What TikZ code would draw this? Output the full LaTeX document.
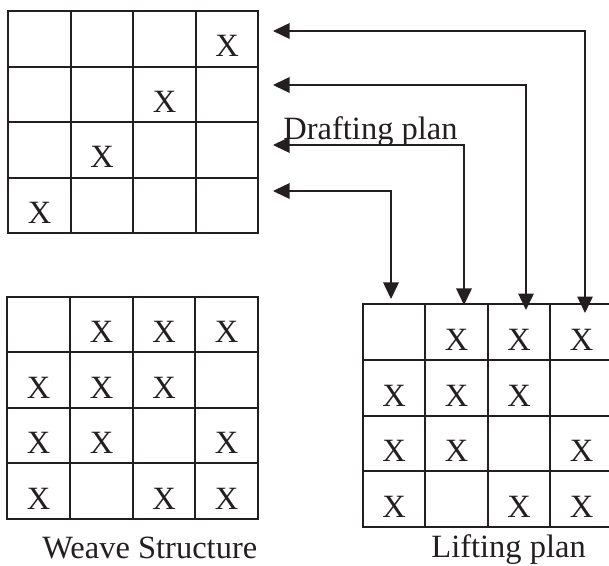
\documentclass[tikz,border=0pt]{standalone}
\usepackage{fontspec}
\setmainfont{Liberation Serif}
\usetikzlibrary{arrows.meta}
\definecolor{ink}{HTML}{231F20}
\begin{document}
\begin{tikzpicture}[x=0.5pt,y=-0.5pt,
  cell/.style={inner sep=0pt, outer sep=0pt},
  gridline/.style={draw=ink, line width=0.9pt, line cap=rect},
  xmark/.style={inner sep=0pt, text height=18pt, text depth=0pt,
    font=\fontsize{16.25}{18}\selectfont, text=ink},
  caption/.style={inner sep=0pt, anchor=base west,
    font=\fontsize{16.25}{18}\selectfont, text=ink},
  link/.style={draw=ink, line width=0.75pt,
    {Triangle[length=8.25pt,width=7.75pt]}-{Triangle[length=8.25pt,width=7.75pt]}}]
\useasboundingbox (0,0) rectangle (609,566);
\clip (0,0) rectangle (609,566);

% cells of a 4x4 plan: #1 prefix, then row and column bounds
\newcommand\plancells[3]{%
  \foreach \r/\ya/\yb in {#2}{%
    \foreach \c/\xa/\xb in {#3}{%
      \pgfmathsetmacro\cw{(\xb-\xa)*0.5}%
      \pgfmathsetmacro\ch{(\yb-\ya)*0.5}%
      \node[cell, minimum width=\cw pt, minimum height=\ch pt]
        (#1-\r-\c) at ({(\xa+\xb)/2},{(\ya+\yb)/2}) {};}}}

% drafting plan grid
\plancells{d}{1/11/67,2/67/122,3/122/178,4/178/233}{1/8/71,2/71/133,3/133/196,4/196/258}
\draw[gridline] (d-1-1.north west) rectangle (d-4-4.south east);
\foreach \i in {2,3,4}{
  \draw[gridline] (d-1-\i.north west) -- (d-4-\i.south west);
  \draw[gridline] (d-\i-1.north west) -- (d-\i-4.north east);}
\foreach \r/\c in {1/4,2/3,3/2,4/1}
  \node[xmark] (dx-\r-\c) at (d-\r-\c) {X};

% weave structure grid
\plancells{w}{1/297/352,2/352/408,3/408/463,4/463/519}{1/7/70,2/70/133,3/133/195,4/195/258}
\draw[gridline] (w-1-1.north west) rectangle (w-4-4.south east);
\foreach \i in {2,3,4}{
  \draw[gridline] (w-1-\i.north west) -- (w-4-\i.south west);
  \draw[gridline] (w-\i-1.north west) -- (w-\i-4.north east);}
\foreach \r/\c in {1/2,1/3,1/4,2/1,2/2,2/3,3/1,3/2,3/4,4/1,4/3,4/4}
  \node[xmark] (wx-\r-\c) at (w-\r-\c) {X};

% lifting plan grid (its right border runs past the page edge)
\plancells{l}{1/304/360,2/360/416,3/416/471,4/471/527}{1/363/425,2/425/488,3/488/550,4/550/613}
\foreach \i in {1,...,4}{
  \draw[gridline] (l-1-\i.north west) -- (l-4-\i.south west);
  \draw[gridline] (l-\i-1.north west) -- ([xshift=10pt]l-\i-4.north east);}
\draw[gridline] (l-4-1.south west) -- ([xshift=10pt]l-4-4.south east);
\foreach \r/\c in {1/2,1/3,1/4,2/1,2/2,2/3,3/1,3/2,3/4,4/1,4/3,4/4}
  \node[xmark] (lx-\r-\c) at (l-\r-\c) {X};

% captions
\node[caption] (cap-d) at (283,140) {Drafting plan};
\node[caption] (cap-w) at (42,558) {Weave Structure};
\node[caption] (cap-l) at (431,557) {Lifting plan};

% links between drafting rows and lifting columns
\coordinate (a1) at (273,31);  \coordinate (b1) at (585,313);
\coordinate (a2) at (273,85);  \coordinate (b2) at (526,310);
\coordinate (a3) at (273,145); \coordinate (b3) at (464,305);
\coordinate (a4) at (273,191); \coordinate (b4) at (391,299);
\foreach \i in {1,...,4} \draw[link] (a\i) -| (b\i);
\end{tikzpicture}
\end{document}
